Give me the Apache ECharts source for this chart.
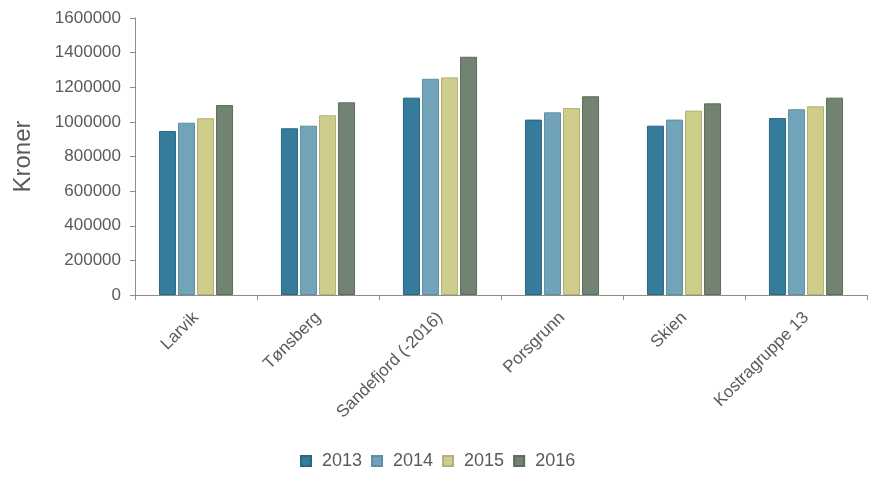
<!DOCTYPE html>
<html>
<head>
<meta charset="utf-8">
<script src="https://cdn.jsdelivr.net/npm/echarts@6/dist/echarts.min.js"></script>
<style>
html,body{margin:0;padding:0;background:#fff;}
#c{width:876px;height:494px;}
</style>
</head>
<body>
<div id="c"></div>
<script>
const categories = ['Larvik', 'Tønsberg', 'Sandefjord (-2016)', 'Porsgrunn', 'Skien', 'Kostragruppe 13'];
const years = ['2013', '2014', '2015', '2016'];
const v2013 = [947000, 963000, 1140000, 1013000, 978000, 1022000];
const v2014 = [995000, 978000, 1249000, 1055000, 1013000, 1073000];
const v2015 = [1021000, 1038000, 1257000, 1080000, 1065000, 1090000];
const v2016 = [1097000, 1113000, 1376000, 1148000, 1107000, 1140000];
const seriesValues = [v2013, v2014, v2015, v2016];
const fills = ['#357b9c', '#72a4b9', '#cfcd8b', '#728471'];
const borders = ['#2b6580', '#5d8ea3', '#b3b272', '#5c6c5c'];

const textColor = '#5a5a5a';
const axisColor = '#8c8c8c';
const font = '"Liberation Sans", Arial, sans-serif';

const chart = echarts.init(document.getElementById('c'));
chart.setOption({
  animation: false,
  backgroundColor: '#ffffff',
  grid: { left: 135, right: 9, top: 18, bottom: 199, containLabel: false },
  legend: {
    left: 300, top: 452, padding: 0,
    itemWidth: 10, itemHeight: 10, itemGap: 9,
    icon: 'rect',
    textStyle: { color: textColor, fontSize: 18, fontFamily: font, padding: [0, 0, 0, 6] },
    data: years
  },
  xAxis: {
    type: 'category',
    data: categories,
    axisLine: { lineStyle: { color: axisColor, width: 1 } },
    axisTick: { show: true, length: 5, lineStyle: { color: axisColor } },
    axisLabel: { rotate: 45, interval: 0, color: textColor, fontSize: 17, fontFamily: font, margin: 20 }
  },
  yAxis: {
    type: 'value',
    min: 0, max: 1600000, interval: 200000,
    name: 'Kroner',
    nameLocation: 'middle',
    nameGap: 100,
    nameTextStyle: { color: textColor, fontSize: 24, fontFamily: font },
    axisLine: { show: true, lineStyle: { color: axisColor, width: 1 } },
    axisTick: { show: true, length: 5, lineStyle: { color: axisColor } },
    splitLine: { show: false },
    axisLabel: { color: textColor, fontSize: 17, fontFamily: font, margin: 14, formatter: v => String(v) }
  },
  series: seriesValues.map((vals, i) => ({
    name: years[i],
    type: 'bar',
    data: vals,
    barWidth: 17,
    barGap: '12%',
    itemStyle: { color: fills[i], borderColor: borders[i], borderWidth: 1 }
  }))
});
</script>
</body>
</html>
